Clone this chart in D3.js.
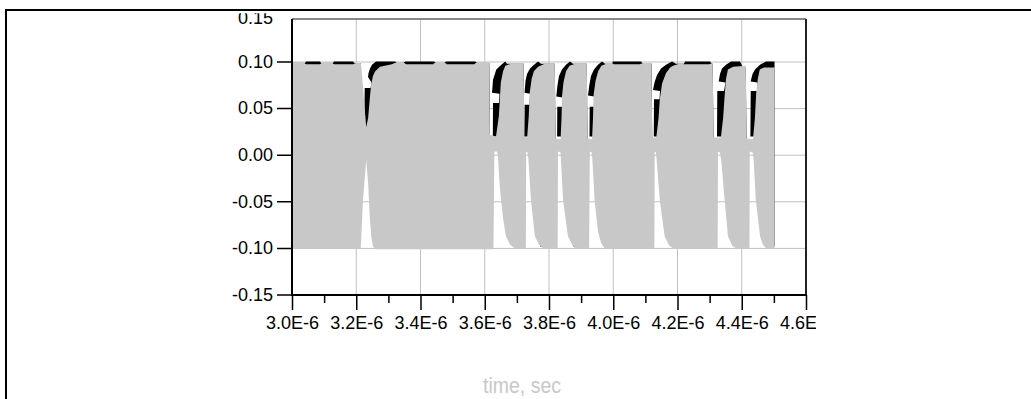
<!DOCTYPE html>
<html>
<head>
<meta charset="utf-8">
<script src="https://cdn.jsdelivr.net/npm/d3@7"></script>
<style>
  html, body { margin: 0; padding: 0; background: #fff; }
  svg { display: block; }
  .tick text { font-family: "Liberation Sans", Arial, sans-serif; font-size: 18px; fill: #000; }
</style>
</head>
<body>
<svg id="chart" width="1031" height="399"></svg>
<script>
// Axis ticks (time in microseconds, labelled in seconds)
const xMajorTicks = [3.0, 3.2, 3.4, 3.6, 3.8, 4.0, 4.2, 4.4, 4.6];
const xTickLabels = ["3.0E-6", "3.2E-6", "3.4E-6", "3.6E-6", "3.8E-6", "4.0E-6", "4.2E-6", "4.4E-6", "4.6E-6"];
const xMinorTicks = [3.1, 3.3, 3.5, 3.7, 3.9, 4.1, 4.3, 4.5];
const yTicks = [0.15, 0.10, 0.05, 0.00, -0.05, -0.10, -0.15];
const yTickLabels = ["0.15", "0.10", "0.05", "0.00", "-0.05", "-0.10", "-0.15"];
const xAxisTitle = "time, sec";

// Outline of the first trace (black), upper edge in drawing order: [time µs, value]
const blackUpper = [
  [3.000, 0.099], [3.040, 0.099], [3.044, 0.1005], [3.087, 0.1005], [3.091, 0.099],
  [3.127, 0.099], [3.131, 0.1005], [3.190, 0.1005], [3.194, 0.099], [3.2142, 0.099],
  [3.2163, 0.03], [3.2251, 0.03], [3.2263, 0.072], [3.2444, 0.072], [3.2475, 0.078],
  [3.2366, 0.084], [3.2381, 0.088], [3.2428, 0.093], [3.249, 0.097], [3.2615, 0.1005],
  [3.321, 0.1005], [3.330, 0.099], [3.346, 0.099], [3.352, 0.1005], [3.442, 0.1005],
  [3.451, 0.099], [3.473, 0.099], [3.479, 0.1005], [3.570, 0.1005], [3.579, 0.099],
  [3.6142, 0.099], [3.616, 0.02], [3.6251, 0.02], [3.6257, 0.056], [3.6444, 0.056],
  [3.6459, 0.066], [3.6226, 0.067], [3.6257, 0.081], [3.636, 0.092], [3.6515, 0.097],
  [3.664, 0.1005], [3.669, 0.098], [3.7213, 0.098],
  [3.7231, 0.02], [3.7237, 0.02], [3.7244, 0.054], [3.7393, 0.054], [3.7409, 0.066],
  [3.7239, 0.067], [3.7269, 0.08], [3.7316, 0.087], [3.7409, 0.093], [3.7533, 0.097],
  [3.7658, 0.1005], [3.7751, 0.098], [3.8181, 0.098],
  [3.8202, 0.02], [3.8252, 0.02], [3.8258, 0.052], [3.842, 0.052], [3.8422, 0.062],
  [3.8227, 0.063], [3.8264, 0.075], [3.8311, 0.085], [3.8405, 0.092], [3.8529, 0.097],
  [3.8654, 0.1005], [3.8747, 0.098], [3.9177, 0.098],
  [3.9198, 0.02], [3.9261, 0.02], [3.9267, 0.052], [3.9401, 0.052], [3.9405, 0.063],
  [3.9214, 0.064], [3.9255, 0.075], [3.9307, 0.085], [3.9401, 0.092], [3.9525, 0.097],
  [3.965, 0.1005], [3.9743, 0.098], [3.9961, 0.098], [3.9992, 0.1005], [4.0864, 0.1005],
  [4.0926, 0.098], [4.1191, 0.098],
  [4.1213, 0.02], [4.1262, 0.02], [4.1268, 0.06], [4.144, 0.06], [4.1455, 0.069],
  [4.1237, 0.07], [4.1284, 0.078], [4.1362, 0.086], [4.1487, 0.093], [4.1642, 0.097],
  [4.1829, 0.1005], [4.1953, 0.098], [4.2202, 0.098], [4.2233, 0.1005], [4.3012, 0.1005],
  [4.3074, 0.098], [4.3096, 0.098],
  [4.3121, 0.02], [4.323, 0.02], [4.3239, 0.069], [4.3448, 0.069], [4.3494, 0.078],
  [4.3283, 0.079], [4.3323, 0.087], [4.3385, 0.093], [4.351, 0.097], [4.3665, 0.1005],
  [4.3946, 0.1005], [4.4039, 0.094], [4.4126, 0.094],
  [4.4148, 0.02], [4.4269, 0.02], [4.4279, 0.069], [4.4475, 0.069], [4.449, 0.078],
  [4.4277, 0.079], [4.4335, 0.087], [4.4412, 0.092], [4.4568, 0.097], [4.4755, 0.1005],
  [4.502, 0.1005]
];
const blackLower = [
  [3.000, -0.098], [3.2117, -0.098], [3.214, 0.03], [3.2553, 0.03], [3.2708, -0.098],
  [3.6132, -0.098], [3.616, 0.02], [3.6786, 0.02], [3.6911, -0.098],
  [3.7206, -0.098], [3.7231, 0.02], [3.7595, 0.02], [3.772, -0.098],
  [3.8187, -0.098], [3.8202, 0.02], [3.8591, 0.02], [3.8747, -0.098],
  [3.9183, -0.098], [3.9198, 0.02], [3.9557, 0.02], [3.9713, -0.098],
  [4.1197, -0.098], [4.1213, 0.02], [4.1611, 0.02], [4.1798, -0.098],
  [4.3105, -0.098], [4.3121, 0.02], [4.3603, 0.02], [4.379, -0.098],
  [4.4132, -0.098], [4.4148, 0.02], [4.4599, 0.02], [4.4786, -0.098], [4.502, -0.098]
];

// Envelope of the second trace (grey): [time µs, value]
const greyUpper = [
  [3.000, 0.1], [3.034, 0.1], [3.044, 0.0975], [3.087, 0.0975], [3.097, 0.1],
  [3.121, 0.1], [3.131, 0.0975], [3.190, 0.0975], [3.199, 0.099], [3.214, 0.099],
  [3.216, 0.095], [3.224, 0.06], [3.231, 0.03], [3.237, 0.04], [3.242, 0.06],
  [3.246, 0.075], [3.252, 0.085], [3.259, 0.09], [3.274, 0.095], [3.311, 0.0975],
  [3.327, 0.1], [3.346, 0.1], [3.355, 0.0975], [3.439, 0.0975], [3.448, 0.1],
  [3.473, 0.1], [3.482, 0.0975], [3.567, 0.0975], [3.576, 0.1], [3.614, 0.1],
  [3.616, 0.022], [3.635, 0.02], [3.644, 0.042], [3.650, 0.078], [3.657, 0.09],
  [3.664, 0.096], [3.685, 0.0985], [3.7213, 0.0985],
  [3.7231, 0.02], [3.732, 0.019], [3.737, 0.042], [3.740, 0.067], [3.746, 0.082],
  [3.753, 0.09], [3.766, 0.095], [3.788, 0.0985], [3.8181, 0.0985],
  [3.8202, 0.018], [3.836, 0.017], [3.839, 0.04], [3.8405, 0.063], [3.845, 0.078],
  [3.853, 0.09], [3.864, 0.096], [3.884, 0.0985], [3.9177, 0.0985],
  [3.9198, 0.018], [3.934, 0.017], [3.937, 0.04], [3.939, 0.065], [3.945, 0.08],
  [3.953, 0.09], [3.963, 0.096], [3.984, 0.099], [3.996, 0.099], [4.002, 0.0975],
  [4.083, 0.0975], [4.093, 0.099], [4.1191, 0.099],
  [4.1213, 0.019], [4.134, 0.019], [4.141, 0.04], [4.145, 0.06], [4.152, 0.077],
  [4.164, 0.088], [4.177, 0.094], [4.186, 0.096], [4.208, 0.0985], [4.220, 0.0975],
  [4.298, 0.0975], [4.3096, 0.099],
  [4.3121, 0.019], [4.335, 0.019], [4.342, 0.04], [4.347, 0.065], [4.351, 0.082],
  [4.357, 0.092], [4.373, 0.095], [4.4126, 0.096],
  [4.4148, 0.018], [4.435, 0.017], [4.441, 0.04], [4.445, 0.067], [4.450, 0.082],
  [4.456, 0.092], [4.469, 0.094], [4.502, 0.094]
];
const greyLower = [
  [3.000, -0.1], [3.214, -0.1], [3.221, -0.048], [3.231, -0.005], [3.237, -0.03],
  [3.242, -0.066], [3.247, -0.088], [3.252, -0.098], [3.261, -0.101],
  [3.627, -0.101], [3.630, 0.004], [3.638, 0.004], [3.641, 0.0], [3.646, -0.03],
  [3.651, -0.049], [3.658, -0.07], [3.666, -0.087], [3.679, -0.096], [3.694, -0.1],
  [3.728, -0.1], [3.729, 0.004], [3.733, 0.003], [3.736, -0.005], [3.744, -0.049],
  [3.756, -0.087], [3.769, -0.096], [3.781, -0.1],
  [3.827, -0.1], [3.828, 0.004], [3.836, 0.003], [3.837, -0.005], [3.844, -0.049],
  [3.859, -0.087], [3.872, -0.096], [3.881, -0.1],
  [3.925, -0.1], [3.927, 0.004], [3.933, 0.003], [3.935, -0.005], [3.942, -0.049],
  [3.953, -0.083], [3.962, -0.094], [3.973, -0.1],
  [4.128, -0.1], [4.129, 0.004], [4.133, 0.003], [4.135, -0.005], [4.145, -0.049],
  [4.160, -0.087], [4.174, -0.097], [4.186, -0.1],
  [4.325, -0.1], [4.326, 0.004], [4.332, 0.003], [4.336, -0.005], [4.347, -0.049],
  [4.357, -0.087], [4.370, -0.097], [4.382, -0.1],
  [4.424, -0.1], [4.425, 0.004], [4.434, 0.003], [4.437, -0.005], [4.444, -0.049],
  [4.457, -0.087], [4.466, -0.096], [4.476, -0.1], [4.502, -0.1]
];

const svg = d3.select("#chart");
const plot = { left: 292, right: 806, top: 19, bottom: 295 };

const x = d3.scaleLinear().domain([3.0, 4.6]).range([plot.left, plot.right]);
const y = d3.scaleLinear().domain([-0.15, 0.15]).range([295, 15.4]);

// Outer frame
svg.append("rect")
  .attr("x", 6).attr("y", 10).attr("width", 1060).attr("height", 420)
  .attr("fill", "none").attr("stroke", "#000").attr("stroke-width", 2);

const defs = svg.append("defs");
defs.append("clipPath").attr("id", "plotClip")
  .append("rect").attr("x", plot.left).attr("y", plot.top)
  .attr("width", plot.right - plot.left).attr("height", plot.bottom - plot.top);
defs.append("clipPath").attr("id", "labelClip")
  .append("rect").attr("x", 0).attr("y", 13.3).attr("width", 816).attr("height", 380);

// Grid
const grid = svg.append("g").attr("clip-path", "url(#plotClip)");
grid.selectAll("line.gx").data(xMajorTicks).join("line")
  .attr("x1", d => x(d)).attr("x2", d => x(d))
  .attr("y1", plot.top).attr("y2", plot.bottom)
  .attr("stroke", "#c0c0c0").attr("stroke-width", 1);
grid.selectAll("line.gy").data(yTicks).join("line")
  .attr("x1", plot.left).attr("x2", plot.right)
  .attr("y1", d => y(d)).attr("y2", d => y(d))
  .attr("stroke", "#c0c0c0").attr("stroke-width", 1);

// Traces drawn as filled outlines (upper edge, then lower edge back)
const edge = d3.line().x(d => x(d[0])).y(d => y(d[1]));
function outline(upper, lower) {
  return edge(upper.concat(lower.slice().reverse())) + "Z";
}
const traces = svg.append("g").attr("clip-path", "url(#plotClip)");
traces.append("path").attr("d", outline(blackUpper, blackLower)).attr("fill", "#000");
traces.append("path").attr("d", outline(greyUpper, greyLower)).attr("fill", "#c8c8c8");

// Plot borders
svg.append("line").attr("x1", plot.left).attr("x2", plot.right)
  .attr("y1", plot.top).attr("y2", plot.top)
  .attr("stroke", "#888").attr("stroke-width", 2);
svg.append("line").attr("x1", plot.right).attr("x2", plot.right)
  .attr("y1", plot.top).attr("y2", plot.bottom)
  .attr("stroke", "#222").attr("stroke-width", 2);

// Axes
const labels = svg.append("g").attr("clip-path", "url(#labelClip)");

const yAxis = d3.axisLeft(y).tickValues(yTicks)
  .tickFormat((d, i) => yTickLabels[i]).tickSize(15).tickPadding(4);
const gy = labels.append("g").attr("transform", `translate(${plot.left},0)`).call(yAxis);
gy.select(".domain").remove();
gy.selectAll(".tick line").attr("stroke", "#000").attr("stroke-width", 1.5)
  .attr("display", d => y(d) < plot.top ? "none" : null);
gy.selectAll(".tick").attr("transform", d => `translate(0,${Math.max(y(d), 18.2)})`);

const xAxis = d3.axisBottom(x).tickValues(xMajorTicks)
  .tickFormat((d, i) => xTickLabels[i]).tickSize(15).tickPadding(6);
const gx = labels.append("g").attr("transform", `translate(0,${plot.bottom})`).call(xAxis);
gx.select(".domain").remove();
gx.selectAll(".tick line").attr("stroke", "#000").attr("stroke-width", 1.5);

const xMinor = d3.axisBottom(x).tickValues(xMinorTicks).tickFormat("").tickSize(8);
const gm = svg.append("g").attr("transform", `translate(0,${plot.bottom})`).call(xMinor);
gm.select(".domain").remove();
gm.selectAll(".tick line").attr("stroke", "#000").attr("stroke-width", 1.5);

// Axis lines
svg.append("line").attr("x1", plot.left).attr("x2", plot.left)
  .attr("y1", plot.top).attr("y2", plot.bottom)
  .attr("stroke", "#000").attr("stroke-width", 2);
svg.append("line").attr("x1", plot.left - 1).attr("x2", plot.right + 1)
  .attr("y1", plot.bottom).attr("y2", plot.bottom)
  .attr("stroke", "#000").attr("stroke-width", 2);

// Axis title
svg.append("text")
  .attr("x", 522).attr("y", 393)
  .attr("text-anchor", "middle")
  .attr("font-family", "'Liberation Sans', Arial, sans-serif")
  .attr("font-size", 21.5)
  .attr("textLength", 78)
  .attr("lengthAdjust", "spacingAndGlyphs")
  .attr("fill", "#c8c8c8")
  .text(xAxisTitle);
</script>
</body>
</html>
